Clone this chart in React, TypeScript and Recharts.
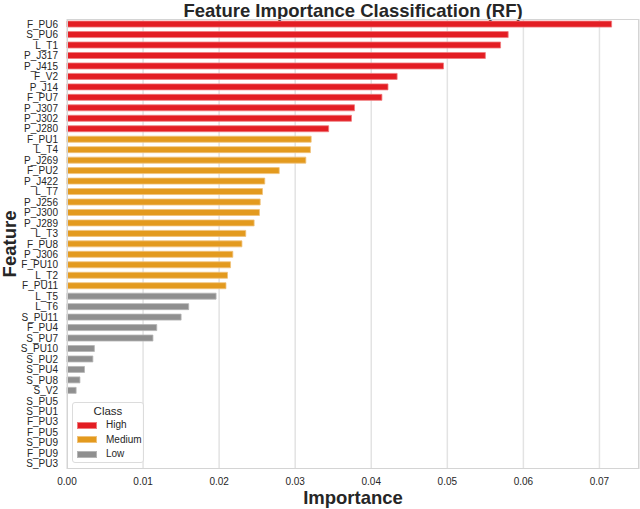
import React from "react"
import { Bar, BarChart, CartesianGrid, Cell, Label, XAxis, YAxis } from "recharts"

const features = [
  "F_PU6", "S_PU6", "L_T1", "P_J317", "P_J415", "F_V2", "P_J14", "F_PU7",
  "P_J307", "P_J302", "P_J280", "F_PU1", "L_T4", "P_J269", "F_PU2", "P_J422",
  "L_T7", "P_J256", "P_J300", "P_J289", "L_T3", "F_PU8", "P_J306", "F_PU10",
  "L_T2", "F_PU11", "L_T5", "L_T6", "S_PU11", "F_PU4", "S_PU7", "S_PU10",
  "S_PU2", "S_PU4", "S_PU8", "S_V2", "S_PU5", "S_PU1", "F_PU3", "F_PU5",
  "S_PU9", "F_PU9", "S_PU3",
]

const importance = [
  0.0716, 0.058, 0.057, 0.055, 0.0495, 0.0434, 0.0422, 0.0414,
  0.0378, 0.0374, 0.0344, 0.0321, 0.032, 0.0314, 0.0279, 0.026,
  0.0257, 0.0254, 0.0253, 0.0246, 0.0235, 0.023, 0.0218, 0.0215,
  0.0211, 0.0209, 0.0196, 0.016, 0.015, 0.0118, 0.0113, 0.0036,
  0.0034, 0.0023, 0.0017, 0.0012, 0, 0, 0, 0,
  0, 0, 0,
]

const classes = [
  "High", "High", "High", "High", "High", "High", "High", "High",
  "High", "High", "High", "Medium", "Medium", "Medium", "Medium", "Medium",
  "Medium", "Medium", "Medium", "Medium", "Medium", "Medium", "Medium", "Medium",
  "Medium", "Medium", "Low", "Low", "Low", "Low", "Low", "Low",
  "Low", "Low", "Low", "Low", "Low", "Low", "Low", "Low",
  "Low", "Low", "Low",
]

const xTicks = [0, 0.01, 0.02, 0.03, 0.04, 0.05, 0.06, 0.07]

const classNames = ["High", "Medium", "Low"]

const fills: Record<string, string> = {
  High: "#e31d23",
  Medium: "#e39a1e",
  Low: "#8f8f8f",
}
const edges: Record<string, string> = {
  High: "#f07a7c",
  Medium: "#f0c27a",
  Low: "#b5b5b5",
}

const rows = features.map((f, i) => ({
  feature: f,
  value: importance[i],
  cls: classes[i],
}))

const font = "'Liberation Sans', Arial, sans-serif"
const ink = "#262626"

// plot box in page pixels
const plotLeft = 67
const plotTop = 19
const plotRight = 639
const plotBottom = 469

export default function App() {
  return (
    <div
      style={{
        position: "absolute",
        left: 0,
        top: 0,
        width: 640,
        height: 509,
        background: "#fff",
        fontFamily: font,
      }}
    >
      <div
        style={{
          position: "absolute",
          top: 0,
          left: plotLeft,
          width: plotRight - plotLeft,
          textAlign: "center",
          fontWeight: "bold",
          fontSize: 18.5,
          lineHeight: "21px",
          color: ink,
        }}
      >
        Feature Importance Classification (RF)
      </div>
      <BarChart
        width={640}
        height={509}
        data={rows}
        layout="vertical"
        margin={{ top: plotTop, right: 640 - plotRight, bottom: 0, left: 0 }}
        barCategoryGap="20%"
      >
        <CartesianGrid horizontal={false} stroke="#e3e3e3" strokeWidth={1.5} />
        <XAxis
          type="number"
          domain={[0, 0.0752]}
          ticks={xTicks}
          tickFormatter={(v: number) => v.toFixed(2)}
          axisLine={false}
          tickLine={false}
          tickSize={0}
          tickMargin={9}
          height={40}
          tick={{ fill: ink, fontSize: 10, fontFamily: font }}
          label={{
            value: "Importance",
            position: "insideBottom",
            offset: 5,
            fill: ink,
            fontSize: 18.5,
            fontWeight: "bold",
            fontFamily: font,
          }}
        />
        <YAxis
          type="category"
          dataKey="feature"
          interval={0}
          width={plotLeft}
          axisLine={false}
          tickLine={false}
          tickSize={0}
          tickMargin={9}
          tick={{ fill: ink, fontSize: 10, fontFamily: font }}
        >
          <Label
            value="Feature"
            angle={-90}
            position="insideLeft"
            offset={9}
            textAnchor="middle"
            fill={ink}
            fontSize={18.5}
            fontWeight="bold"
            fontFamily={font}
          />
        </YAxis>
        <Bar dataKey="value" isAnimationActive={false} strokeWidth={0.8}>
          {rows.map((r, i) => (
            <Cell key={i} fill={fills[r.cls]} stroke={edges[r.cls]} />
          ))}
        </Bar>
      </BarChart>
      <div
        style={{
          position: "absolute",
          left: plotLeft,
          top: plotTop,
          width: plotRight - plotLeft,
          height: plotBottom - plotTop,
          boxSizing: "border-box",
          border: "1.25px solid #d4d4d4",
          pointerEvents: "none",
        }}
      />
      <div
        style={{
          position: "absolute",
          left: 72,
          top: 402,
          width: 72,
          height: 61,
          boxSizing: "border-box",
          border: "1px solid #dcdcdc",
          borderRadius: 3,
          background: "rgba(255,255,255,0.85)",
          color: ink,
          fontSize: 10,
          padding: "2px 0 0 4px",
        }}
      >
        <div style={{ textAlign: "center", fontSize: 11.5, lineHeight: "13px", paddingRight: 4 }}>
          Class
        </div>
        {classNames.map((c) => (
          <div
            key={c}
            style={{ display: "flex", alignItems: "center", height: 14.5, lineHeight: "14px" }}
          >
            <span
              style={{
                display: "inline-block",
                width: 18,
                height: 5,
                background: fills[c],
                border: `0.8px solid ${edges[c]}`,
                marginRight: 9,
              }}
            />
            {c}
          </div>
        ))}
      </div>
    </div>
  )
}
